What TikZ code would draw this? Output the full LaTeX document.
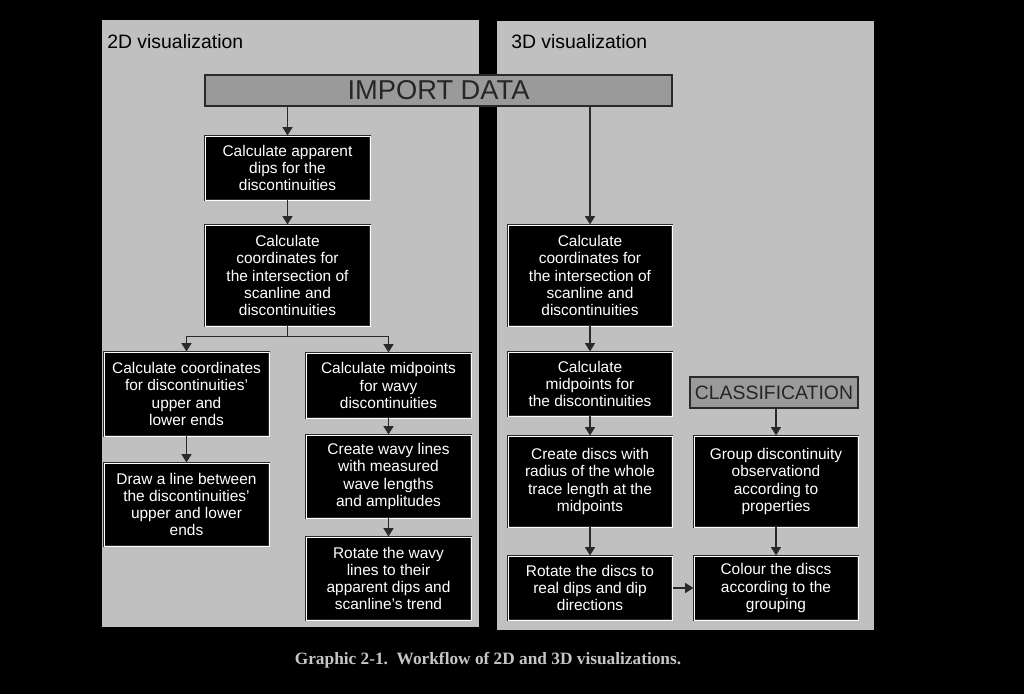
\documentclass[tikz,border=0pt]{standalone}
\usepackage{fontspec}
\setmainfont{Liberation Sans}
\newfontfamily\capfont{Liberation Serif}
\usetikzlibrary{arrows.meta,calc}
\definecolor{panelgray}{HTML}{C0C0C0}
\definecolor{importgray}{HTML}{9A9A9A}
\definecolor{linegray}{HTML}{2A2A2A}
\tikzset{
  sz/.style 2 args={
    minimum width=#1*0.025cm,
    minimum height=#2*0.025cm
  },
  stepbox/.style={
    draw=linegray,
    fill=black,
    double=white,
    double distance=0.5pt,
    line width=0.7pt,
    text=white,
    align=center,
    inner sep=0pt,
    font=\fontsize{11}{12.2}\selectfont
  },
  headbox/.style={
    draw=linegray,
    fill=importgray,
    line width=1pt,
    inner sep=0pt,
    text=black!85
  },
  arr/.style={
    draw=linegray,
    line width=1.4pt,
    -{Triangle[length=6pt,width=7pt]}
  }
}

\begin{document}
\begin{tikzpicture}[x=0.025cm,y=-0.025cm]
  % background and panels
  \fill[black] (0,0) rectangle (1024,694);
  \fill[panelgray] (102,20) rectangle (479,627);
  \fill[panelgray] (497,21) rectangle (874,630);
  \node[anchor=base west,inner sep=0pt,font=\fontsize{13.8}{15}\selectfont] (t2d) at (107,49) {2D visualization};
  \node[anchor=base west,inner sep=0pt,font=\fontsize{13.8}{15}\selectfont] (t3d) at (511,49) {3D visualization};

  % header boxes
  \node[headbox,sz={467}{31},font=\fontsize{19.4}{21}\selectfont] (import) at (438.5,90.5) {IMPORT DATA};
  \node[headbox,sz={168}{31},font=\fontsize{13.8}{15}\selectfont] (class) at (774,392.5) {CLASSIFICATION};

  % 2D branch
  \node[stepbox,sz={165}{64}] (l1) at (287.5,168) {Calculate apparent\\dips for the\\discontinuities};
  \node[stepbox,sz={165}{101}] (l2) at (287.5,275.5) {Calculate\\coordinates for\\the intersection of\\scanline and\\discontinuities};
  \node[stepbox,sz={165}{84}] (l3a) at (186.5,394) {Calculate coordinates\\for discontinuities'\\upper and\\lower ends};
  \node[stepbox,sz={165}{83}] (l4a) at (186.5,504.5) {Draw a line between\\the discontinuities'\\upper and lower\\ends};
  \node[stepbox,sz={165}{65}] (l3b) at (388.5,385.5) {Calculate midpoints\\for wavy\\discontinuities};
  \node[stepbox,sz={165}{83}] (l4b) at (388.5,476.5) {Create wavy lines\\with measured\\wave lengths\\and amplitudes};
  \node[stepbox,sz={165}{83}] (l5b) at (388.5,578.5) {Rotate the wavy\\lines to their\\apparent dips and\\scanline's trend};

  % 3D branch
  \node[stepbox,sz={164}{101}] (r1) at (590,275.5) {Calculate\\coordinates for\\the intersection of\\scanline and\\discontinuities};
  \node[stepbox,sz={164}{64}] (r2) at (590,384) {Calculate\\midpoints for\\the discontinuities};
  \node[stepbox,sz={164}{91}] (r3) at (590,481.5) {Create discs with\\radius of the whole\\trace length at the\\midpoints};
  \node[stepbox,sz={164}{64}] (r4) at (590,588) {Rotate the discs to\\real dips and dip\\directions};
  \node[stepbox,sz={164}{91}] (c1) at (776,481.5) {Group discontinuity\\observationd\\according to\\properties};
  \node[stepbox,sz={164}{64}] (c2) at (776,588) {Colour the discs\\according to the\\grouping};

  % connectors
  \draw[arr] (import.south -| l1.north) -- (l1.north);
  \draw[arr] (l1) -- (l2);
  \coordinate (fork) at ($(l2.south)+(0,10)$);
  \draw[draw=linegray,line width=1.4pt] (l2.south) -- (fork);
  \draw[arr] (fork) -| (l3a.north);
  \draw[arr] (fork) -| (l3b.north);
  \draw[arr] (l3a) -- (l4a);
  \draw[arr] (l3b) -- (l4b);
  \draw[arr] (l4b) -- (l5b);
  \draw[arr] (import.south -| r1.north) -- (r1.north);
  \draw[arr] (r1) -- (r2);
  \draw[arr] (r2) -- (r3);
  \draw[arr] (r3) -- (r4);
  \draw[arr] (class.south -| c1.north) -- (c1.north);
  \draw[arr] (c1) -- (c2);
  \draw[arr] (r4) -- (c2);

  % caption
  \node[anchor=base,text=gray!45,font=\capfont\bfseries\fontsize{12.3}{14}\selectfont] (cap) at (488,664) {Graphic 2-1.\ \ Workflow of 2D and 3D visualizations.};
\end{tikzpicture}
\end{document}
